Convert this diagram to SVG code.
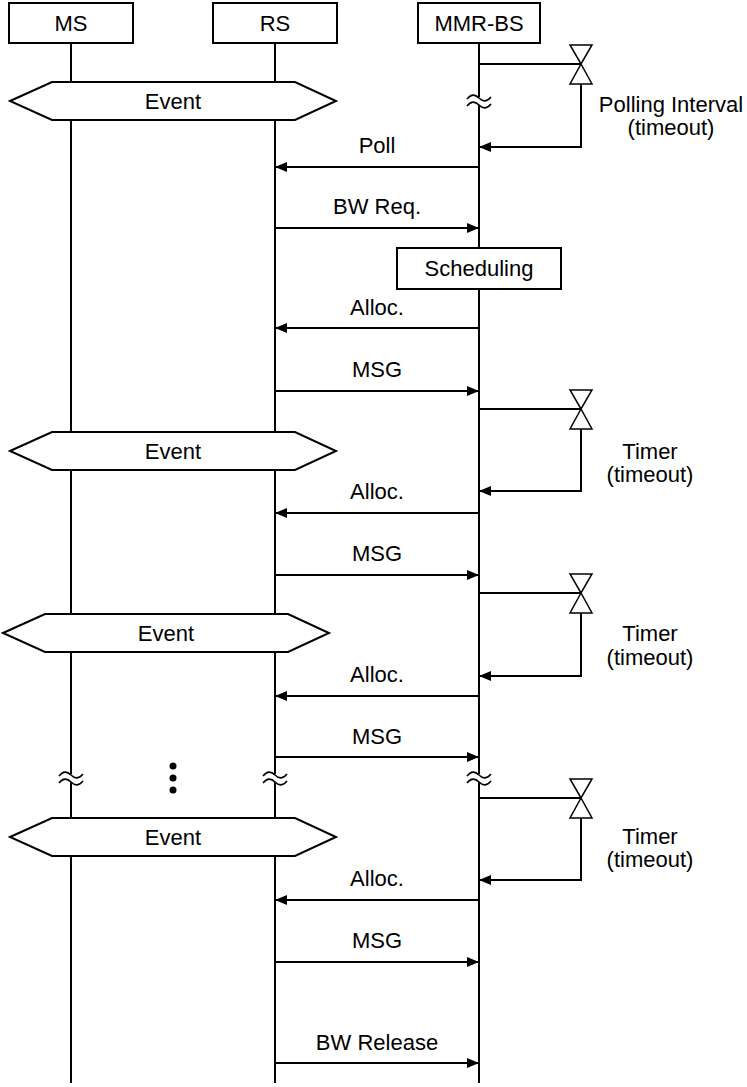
<svg xmlns="http://www.w3.org/2000/svg" width="747" height="1087" viewBox="0 0 747 1087">
<style>
text{font-family:"Liberation Sans",Arial,sans-serif;font-size:22px;fill:#000;text-anchor:middle}
.ln{stroke:#000;stroke-width:2;fill:none}
.box{fill:#fff;stroke:#000;stroke-width:2}
.hg{fill:#fff;stroke:#000;stroke-width:1.5}
.brk{fill:none;stroke:#000;stroke-width:1.6}
.gap{fill:#fff;stroke:none}
</style>
<defs>
<marker id="ah" markerWidth="12" markerHeight="10" refX="11" refY="5" orient="auto" markerUnits="userSpaceOnUse">
<path d="M0,0 L12,5 L0,10 Z" fill="#000"/>
</marker>
<g id="brkSym">
<rect class="gap" x="-4" y="-4" width="8" height="8"/>
<path class="brk" d="M-12,-2 c4,-5 8,-5 12,-1 s8,4 12,-1"/>
<path class="brk" d="M-12,5 c4,-5 8,-5 12,-1 s8,4 12,-1"/>
</g>
<g id="hourglass">
<path class="hg" d="M-11,-19 L11,-19 L0,0 Z M0,0 L-11,20 L11,20 Z"/>
</g>
</defs>

<g id="lifelines">
<line class="ln" x1="71" y1="43" x2="71" y2="1083"/>
<line class="ln" x1="275" y1="43" x2="275" y2="1083"/>
<line class="ln" x1="479" y1="43" x2="479" y2="1083"/>
</g>

<g id="node-MS"><rect class="box" x="9" y="3" width="124" height="40"/><text x="71" y="31">MS</text></g>
<g id="node-RS"><rect class="box" x="213" y="3" width="124" height="40"/><text x="275" y="31">RS</text></g>
<g id="node-MMRBS"><rect class="box" x="418" y="3" width="122" height="40"/><text x="479" y="31">MMR-BS</text></g>

<g id="breaks">
<use href="#brkSym" x="479" y="101"/>
<use href="#brkSym" x="71" y="778"/>
<use href="#brkSym" x="275" y="778"/>
<use href="#brkSym" x="479" y="778"/>
</g>
<g id="dots">
<circle cx="173" cy="766" r="3.5"/>
<circle cx="173" cy="778" r="3.5"/>
<circle cx="173" cy="790" r="3.5"/>
</g>

<g id="event1"><path class="box" d="M10,101 L52,82 L295,82 L336,101 L295,120 L52,120 Z"/><text x="173" y="109">Event</text></g>
<g id="event2"><path class="box" d="M10,451 L52,432 L295,432 L336,451 L295,470 L52,470 Z"/><text x="173" y="459">Event</text></g>
<g id="event3"><path class="box" d="M3,633 L45,614 L288,614 L329,633 L288,652 L45,652 Z"/><text x="166" y="641">Event</text></g>
<g id="event4"><path class="box" d="M10,837 L52,818 L295,818 L336,837 L295,856 L52,856 Z"/><text x="173" y="845">Event</text></g>

<g id="scheduling"><rect class="box" x="397" y="248" width="164" height="41"/><text x="479" y="276">Scheduling</text></g>

<g id="connectors">
<line class="ln" x1="479" y1="167" x2="276" y2="167" marker-end="url(#ah)"/>
<line class="ln" x1="275" y1="228" x2="478" y2="228" marker-end="url(#ah)"/>
<line class="ln" x1="479" y1="328" x2="276" y2="328" marker-end="url(#ah)"/>
<line class="ln" x1="275" y1="391" x2="478" y2="391" marker-end="url(#ah)"/>
<line class="ln" x1="479" y1="513" x2="276" y2="513" marker-end="url(#ah)"/>
<line class="ln" x1="275" y1="575" x2="478" y2="575" marker-end="url(#ah)"/>
<line class="ln" x1="479" y1="696" x2="276" y2="696" marker-end="url(#ah)"/>
<line class="ln" x1="275" y1="757" x2="478" y2="757" marker-end="url(#ah)"/>
<line class="ln" x1="479" y1="900" x2="276" y2="900" marker-end="url(#ah)"/>
<line class="ln" x1="275" y1="962" x2="478" y2="962" marker-end="url(#ah)"/>
<line class="ln" x1="275" y1="1063" x2="478" y2="1063" marker-end="url(#ah)"/>

<path class="ln" d="M479,64 L581,64"/>
<path class="ln" d="M581,84 L581,147 L480,147" marker-end="url(#ah)"/>
<path class="ln" d="M479,409 L581,409"/>
<path class="ln" d="M581,429 L581,491 L480,491" marker-end="url(#ah)"/>
<path class="ln" d="M479,593 L581,593"/>
<path class="ln" d="M581,613 L581,676 L480,676" marker-end="url(#ah)"/>
<path class="ln" d="M479,798 L581,798"/>
<path class="ln" d="M581,818 L581,880 L480,880" marker-end="url(#ah)"/>
</g>

<g id="timers">
<use href="#hourglass" x="581" y="64"/>
<use href="#hourglass" x="581" y="409"/>
<use href="#hourglass" x="581" y="593"/>
<use href="#hourglass" x="581" y="798"/>
</g>

<g id="labels">
<text x="377" y="153">Poll</text>
<text x="377" y="214">BW Req.</text>
<text x="377" y="315">Alloc.</text>
<text x="377" y="377">MSG</text>
<text x="377" y="499">Alloc.</text>
<text x="377" y="561">MSG</text>
<text x="377" y="682">Alloc.</text>
<text x="377" y="744">MSG</text>
<text x="377" y="886">Alloc.</text>
<text x="377" y="948">MSG</text>
<text x="377" y="1050">BW Release</text>
<text x="671" y="112">Polling Interval</text>
<text x="671" y="135">(timeout)</text>
<text x="650" y="459">Timer</text>
<text x="650" y="482">(timeout)</text>
<text x="650" y="641">Timer</text>
<text x="650" y="665">(timeout)</text>
<text x="650" y="844">Timer</text>
<text x="650" y="867">(timeout)</text>
</g>
</svg>
